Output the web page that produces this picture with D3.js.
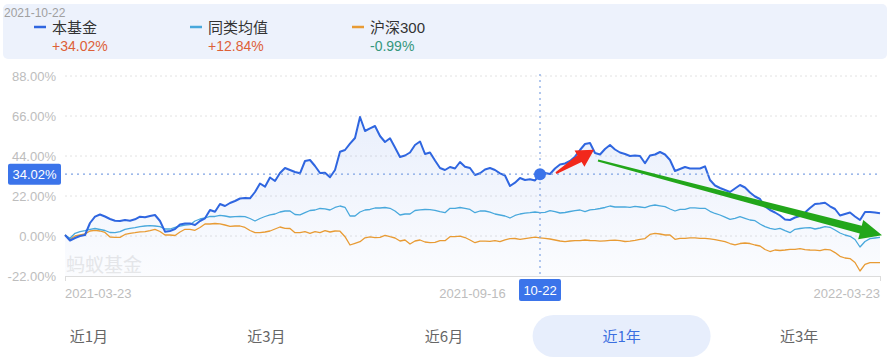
<!DOCTYPE html>
<html>
<head>
<meta charset="utf-8">
<script src="https://cdn.jsdelivr.net/npm/d3@7"></script>
<style>
  body { margin: 0; background: #fff; }
  svg { display: block; font-family: "Liberation Sans", "Noto Sans CJK SC", sans-serif; }
</style>
</head>
<body>
<div id="chart"></div>
<script>
// series values (percent return), one point per step from 2021-03-23 to 2022-03-23
var fundVals = [
  0.55, -2.48, -1.10, 0, 0.55, 7.15, 10.62, 11.83, 10.73, 9.35,
  8.42, 8.25, 8.8, 8.42, 9.19, 10.62, 10.29, 11.0, 11.55, 8.25,
  2.37, 2.75, 3.85, 6.33, 6.88, 6.88, 6.05, 8.25, 9.74, 14.3,
  13.37, 17.6, 16.5, 18.15, 19.25, 20.63, 20.9, 20.74, 24.2, 28.88,
  27.12, 32.18, 30.25, 34.65, 37.4, 36.3, 35.2, 34.49, 41.25, 41.8,
  38.5, 34.65, 34.82, 32.29, 36.3, 46.37, 47.3, 50.77, 53.9, 65.45,
  57.75, 59.24, 60.5, 55.0, 51.7, 53.74, 48.68, 43.45, 44.28, 45.93,
  50.05, 51.98, 45.1, 45.93, 41.53, 37.4, 36.3, 37.95, 37.13, 40.7,
  38.12, 37.4, 33.55, 34.49, 36.58, 37.4, 36.3, 34.49, 33.28, 27.5,
  29.32, 31.9, 30.8, 31.19, 30.53, 34.02, 34.65, 34.1, 37.13, 39.33,
  39.88, 41.25, 43.62, 47.3, 50.6, 51.15, 45.65, 44.83, 47.85, 50.05,
  47.58, 45.93, 45.1, 44.0, 44.28, 44.0, 39.99, 44.28, 44.83, 46.2,
  44.83, 41.8, 35.75, 36.85, 37.95, 37.13, 37.13, 37.13, 38.34, 30.8,
  27.78, 26.4, 25.3, 24.2, 26.13, 28.05, 26.68, 23.93, 21.73, 20.35,
  16.23, 14.3, 12.93, 11.28, 9.08, 8.8, 10.18, 11.0, 12.93, 15.4,
  17.6, 17.88, 18.32, 16.34, 14.85, 11.28, 12.1, 12.93, 10.73, 8.8,
  13.2, 13.2, 12.93, 12.49
];
var peerVals = [
  0.55, -1.27, 1.49, 2.37, 2.92, 3.69, 4.13, 3.58, 3.03, 1.93,
  1.82, 2.37, 3.69, 4.24, 4.57, 5.12, 5.5, 5.67, 5.5, 5.12,
  3.85, 3.85, 4.68, 5.39, 6.05, 6.22, 8.25, 9.35, 9.9, 10.73,
  10.73, 11.39, 11.0, 10.45, 10.62, 10.84, 10.62, 9.63, 8.25, 9.63,
  10.73, 11.66, 12.1, 13.2, 13.75, 13.75, 11.83, 11.66, 12.82, 14.03,
  14.3, 15.13, 14.96, 14.3, 15.68, 16.5, 15.79, 11.0, 11.0, 13.2,
  14.3, 14.58, 15.4, 15.4, 15.68, 15.24, 13.75, 11.55, 12.1, 12.1,
  14.03, 14.41, 14.58, 14.47, 14.14, 13.37, 12.82, 15.24, 15.24, 15.68,
  15.24, 14.58, 12.82, 13.75, 13.75, 13.09, 12.1, 11.55, 11.0, 9.9,
  11.28, 12.1, 12.54, 12.82, 13.2, 12.84, 13.04, 13.92, 13.37, 12.65,
  12.93, 13.48, 13.92, 14.3, 13.37, 14.41, 14.69, 15.13, 15.68, 16.5,
  15.95, 15.95, 16.06, 15.79, 16.34, 15.95, 15.57, 16.61, 17.05, 16.61,
  16.12, 14.85, 13.75, 14.69, 14.69, 15.51, 15.51, 15.24, 15.24, 13.59,
  12.38, 11.55, 10.34, 9.19, 9.74, 10.62, 9.74, 8.8, 8.42, 6.6,
  5.12, 4.24, 3.69, 4.24, 2.92, 1.82, 3.69, 4.13, 4.51, 4.57,
  3.85, 4.4, 5.12, 4.79, 3.3, 1.65, 0.55, -0.17, -1.93, -6.05,
  -3.03, -1.43, -1.1, -0.72
];
var hs300Vals = [
  0.55, -1.82, 0, 0.55, 1.1, 2.75, 3.14, 2.75, 1.93, -0.55,
  -0.72, -0.72, 0.83, 1.49, 1.82, 2.31, 2.37, 2.92, 3.69, 2.48,
  0.55, 0.55, 0.28, 2.2, 3.69, 3.69, 3.14, 4.68, 6.6, 6.6,
  6.88, 6.71, 6.05, 5.34, 5.5, 5.5, 4.68, 3.03, 1.82, 1.82,
  2.2, 2.75, 3.85, 4.95, 4.24, 4.13, 1.82, 1.82, 2.37, 1.49,
  2.37, 1.82, 2.92, 2.2, 2.75, 2.64, -0.39, -4.95, -4.02, -3.14,
  -0.99, -0.44, -0.94, -0.72, 0.39, -0.39, -1.1, -2.75, -2.2, -4.4,
  -2.75, -2.2, -3.3, -3.69, -3.47, -2.59, -2.59, -0.39, -0.39, -0.11,
  -0.83, -2.2, -3.69, -2.86, -2.86, -2.92, -2.59, -3.14, -2.09, -1.49,
  -1.38, -1.82, -1.43, -0.99, -0.66, -0.99, -1.27, -1.65, -2.2, -2.75,
  -3.14, -2.75, -2.59, -2.59, -2.2, -2.48, -2.59, -2.86, -2.64, -2.37,
  -2.31, -2.59, -3.03, -2.86, -2.42, -1.82, -1.43, 0.83, 1.49, 1.1,
  0.55, 0.55, -1.82, -1.27, -1.27, -0.99, -0.99, -1.27, -1.27, -1.54,
  -1.98, -2.59, -3.14, -4.13, -4.84, -4.13, -3.85, -4.13, -4.95, -5.5,
  -7.43, -8.53, -7.7, -7.98, -7.7, -7.32, -7.32, -6.93, -7.48, -7.7,
  -7.81, -8.09, -7.32, -7.59, -9.13, -11.17, -12.1, -12.43, -14.58, -19.25,
  -15.57, -14.69, -14.69, -14.69
];

var seriesNames = ["本基金", "同类均值", "沪深300"];
var seriesColors = ["#2f66e0", "#48a8dc", "#e89b34"];
var legendValues = ["+34.02%", "+12.84%", "-0.99%"];
var yTicks = [-22, 0, 22, 44, 66, 88];
var xLabels = ["2021-03-23", "2021-09-16", "2022-03-23"];
var tabs = ["近1月", "近3月", "近6月", "近1年", "近3年"];
var activeTab = "近1年";
var crossIndex = 95;          // 2021-10-22
var crossDate = "2021-10-22";
var crossShort = "10-22";

var W = 891, H = 362;
var margin = {top: 76, right: 11, bottom: 86, left: 65};

var svg = d3.select("#chart").append("svg")
    .attr("width", W)
    .attr("height", H);

var x = d3.scaleLinear()
    .domain([0, fundVals.length - 1])
    .range([margin.left, W - margin.right]);

var y = d3.scaleLinear()
    .domain([-22, 88])
    .range([H - margin.bottom, margin.top]);

// gradient under the fund line
var defs = svg.append("defs");
var grad = defs.append("linearGradient")
    .attr("id", "areaGrad")
    .attr("x1", 0).attr("y1", 0).attr("x2", 0).attr("y2", 1);
grad.append("stop").attr("offset", "0%").attr("stop-color", "#3a6fe2").attr("stop-opacity", 0.11);
grad.append("stop").attr("offset", "100%").attr("stop-color", "#3a6fe2").attr("stop-opacity", 0.02);

//gridlines + y labels
svg.append("g")
  .selectAll("line")
  .data(yTicks.filter(function(d) { return d > -22; }))
  .enter().append("line")
    .attr("x1", x(0))
    .attr("x2", x(fundVals.length - 1))
    .attr("y1", function(d) { return y(d); })
    .attr("y2", function(d) { return y(d); })
    .attr("stroke", "#e2e2e2")
    .attr("stroke-width", 1)
    .attr("stroke-dasharray", "2,3");

svg.append("g")
  .selectAll("text")
  .data(yTicks)
  .enter().append("text")
    .attr("x", margin.left - 9)
    .attr("y", function(d) { return y(d) + 5; })
    .attr("text-anchor", "end")
    .attr("font-size", 13)
    .attr("fill", "#bdbdbd")
    .text(function(d) { return d.toFixed(2) + "%"; });

// bottom axis
var xAxis = d3.axisBottom(x)
    .tickValues([0, fundVals.length - 1])
    .tickSize(5)
    .tickFormat("");
var axisG = svg.append("g")
    .attr("transform", "translate(0," + y(-22) + ")")
    .call(xAxis);
axisG.selectAll("path,line").attr("stroke", "#dcdcdc");

var xLabelIdx = [0, (fundVals.length - 1) / 2, fundVals.length - 1];
var anchors = ["start", "middle", "end"];
svg.append("g")
  .selectAll("text")
  .data(xLabels)
  .enter().append("text")
    .attr("x", function(d, i) { return x(xLabelIdx[i]); })
    .attr("y", y(-22) + 22)
    .attr("text-anchor", function(d, i) { return anchors[i]; })
    .attr("font-size", 13)
    .attr("fill", "#bdbdbd")
    .text(function(d) { return d; });

// watermark
svg.append("text")
    .attr("x", x(0) + 1)
    .attr("y", y(-22) - 4)
    .attr("font-size", 19)
    .attr("fill", "#e9e9e9")
    .attr("font-family", "Noto Sans CJK SC")
    .text("蚂蚁基金");

// area + lines
svg.append("path")
    .datum(fundVals)
    .attr("fill", "url(#areaGrad)")
    .attr("d", d3.area()
      .x(function(d, i) { return x(i); })
      .y0(y(-22))
      .y1(function(d) { return y(d); }));

var allSeries = [hs300Vals, peerVals, fundVals];
var drawColors = [seriesColors[2], seriesColors[1], seriesColors[0]];
var widths = [1.3, 1.3, 2];
allSeries.forEach(function(vals, k) {
  svg.append("path")
      .datum(vals)
      .attr("fill", "none")
      .attr("stroke", drawColors[k])
      .attr("stroke-width", widths[k])
      .attr("stroke-linejoin", "round")
      .attr("d", d3.line()
        .x(function(d, i) { return x(i); })
        .y(function(d) { return y(d); }));
});

// crosshair
var cx = x(crossIndex), cy = y(fundVals[crossIndex]);
svg.append("line")
    .attr("x1", x(0)).attr("x2", x(fundVals.length - 1))
    .attr("y1", cy).attr("y2", cy)
    .attr("stroke", "#7fa3e3")
    .attr("stroke-width", 1.2)
    .attr("stroke-dasharray", "2,4");
svg.append("line")
    .attr("x1", cx).attr("x2", cx)
    .attr("y1", y(88) - 2).attr("y2", y(-22))
    .attr("stroke", "#7fa3e3")
    .attr("stroke-width", 1.2)
    .attr("stroke-dasharray", "2,4");
svg.append("circle")
    .attr("cx", cx).attr("cy", cy)
    .attr("r", 6)
    .attr("fill", "#3b74ea");

// y value tag
svg.append("rect")
    .attr("x", 8).attr("y", cy - 10.5)
    .attr("width", 53).attr("height", 21)
    .attr("rx", 2)
    .attr("fill", "#3b74ea");
svg.append("text")
    .attr("x", 34.5).attr("y", cy + 5)
    .attr("text-anchor", "middle")
    .attr("font-size", 13)
    .attr("fill", "#fff")
    .text(fundVals[crossIndex].toFixed(2) + "%");

// x value tag
svg.append("rect")
    .attr("x", cx - 21).attr("y", y(-22) + 3)
    .attr("width", 42).attr("height", 22)
    .attr("rx", 2)
    .attr("fill", "#3b74ea");
svg.append("text")
    .attr("x", cx).attr("y", y(-22) + 19)
    .attr("text-anchor", "middle")
    .attr("font-size", 13)
    .attr("fill", "#fff")
    .text(crossShort);

// annotation arrows (hand drawn on the screenshot)
function arrow(x1, y1, x2, y2, w0, w1, headW, headL, color) {
  var dx = x2 - x1, dy = y2 - y1, len = Math.sqrt(dx * dx + dy * dy);
  var ux = dx / len, uy = dy / len, nx = -uy, ny = ux;
  var bx = x2 - ux * headL, by = y2 - uy * headL;
  var pts = [
    [x1 + nx * w0 / 2, y1 + ny * w0 / 2],
    [bx + nx * w1 / 2, by + ny * w1 / 2],
    [bx + nx * headW / 2, by + ny * headW / 2],
    [x2, y2],
    [bx - nx * headW / 2, by - ny * headW / 2],
    [bx - nx * w1 / 2, by - ny * w1 / 2],
    [x1 - nx * w0 / 2, y1 - ny * w0 / 2]
  ];
  svg.append("path")
      .attr("d", "M" + pts.join("L") + "Z")
      .attr("fill", color);
}
arrow(x(98.2), y(34.6), x(105.8), y(47.4), 2, 8, 19, 17, "#f2281c");
arrow(x(106.6), y(41.5), x(163.4), y(0.4), 2, 8, 20, 22, "#22a61a");

// tooltip header
svg.append("rect")
    .attr("x", 3).attr("y", 4)
    .attr("width", 884).attr("height", 55)
    .attr("rx", 5)
    .attr("fill", "#edf2fc");
svg.append("text")
    .attr("x", 4).attr("y", 17)
    .attr("font-size", 12)
    .attr("fill", "#a0a0a0")
    .text(crossDate);

var legendX = [34, 190, 352];
var legendValColors = ["#dd6038", "#dd6038", "#35977c"];
var lg = svg.append("g")
  .selectAll("g")
  .data(seriesNames)
  .enter().append("g")
    .attr("transform", function(d, i) { return "translate(" + legendX[i] + ",0)"; });
lg.append("line")
    .attr("x1", 0).attr("x2", 12)
    .attr("y1", 27).attr("y2", 27)
    .attr("stroke", function(d, i) { return seriesColors[i]; })
    .attr("stroke-width", 2.5);
lg.append("text")
    .attr("x", 18).attr("y", 33)
    .attr("font-size", 15)
    .attr("fill", "#333")
    .text(function(d) { return d; });
lg.append("text")
    .attr("x", 18).attr("y", 51)
    .attr("font-size", 14)
    .attr("fill", function(d, i) { return legendValColors[i]; })
    .text(function(d, i) { return legendValues[i]; });

// period tabs
var tabX = d3.scaleBand().domain(tabs).range([0, 888]);
var tg = svg.append("g")
  .selectAll("g")
  .data(tabs)
  .enter().append("g")
    .attr("transform", function(d) { return "translate(" + (tabX(d) + tabX.bandwidth() / 2) + ",336)"; });
tg.filter(function(d) { return d === activeTab; })
  .append("rect")
    .attr("x", -89).attr("y", -21)
    .attr("width", 178).attr("height", 42)
    .attr("rx", 21)
    .attr("fill", "#e7eefc");
tg.append("text")
    .attr("y", 6)
    .attr("text-anchor", "middle")
    .attr("font-size", 15)
    .attr("font-family", "Noto Sans CJK SC")
    .attr("fill", function(d) { return d === activeTab ? "#3b6fe0" : "#666"; })
    .text(function(d) { return d; });
</script>
</body>
</html>
